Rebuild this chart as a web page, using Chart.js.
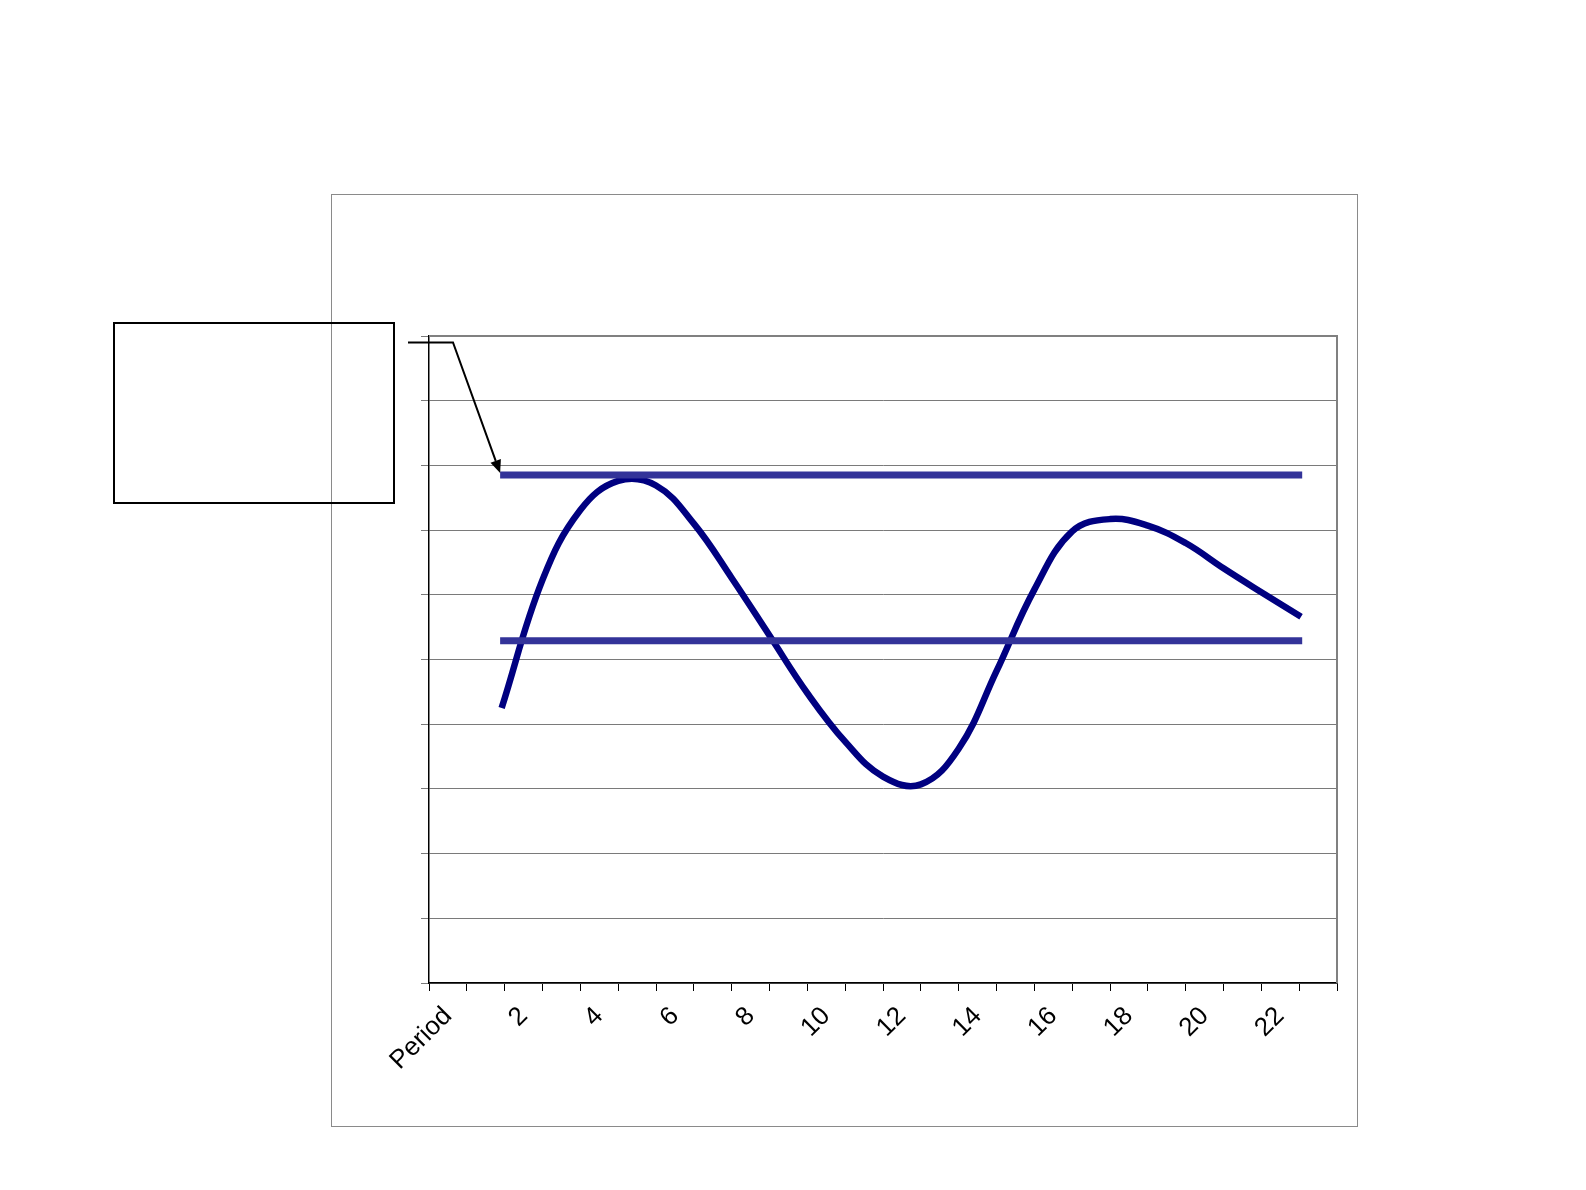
<!DOCTYPE html>
<html>
<head>
<meta charset="utf-8">
<script src="https://cdn.jsdelivr.net/npm/chart.js@4.4.1/dist/chart.umd.min.js"></script>
<style>
  html, body { margin: 0; padding: 0; background: #fff; }
  #wrap { position: relative; width: 1586px; height: 1190px; overflow: hidden; }
  #c { position: absolute; left: 0; top: 0; }
  #frame { position: absolute; left: 331px; top: 194px; width: 1025px; height: 931px; border: 1px solid #8a8a8a; box-sizing: content-box; }
  #textbox { position: absolute; left: 113px; top: 322px; width: 278px; height: 178px; border: 2px solid #000; background: transparent; }
</style>
</head>
<body>
<div id="wrap">
  <div id="frame"></div>
  <canvas id="c" width="1586" height="1190"></canvas>
  <div id="textbox"></div>
</div>
<script>
// ---- data ----
const categories = ['Period','1','2','3','4','5','6','7','8','9','10','11','12','13','14','15','16','17','18','19','20','21','22','23'];
const shownTickLabels = ['Period','2','4','6','8','10','12','14','16','18','20','22'];

const curveX = [1.92, 3, 4, 5, 6, 7, 8, 9, 10, 11, 12, 13, 14, 15, 16, 17, 18, 19, 20, 21, 22, 23.05];
const curveY = [4.25, 6.23, 7.31, 7.76, 7.69, 7.10, 6.26, 5.37, 4.48, 3.73, 3.19, 3.07, 3.62, 4.82, 6.08, 6.98, 7.17, 7.07, 6.80, 6.41, 6.04, 5.66];

const levelX = [1.88, 23.08];
const upperLevel = [7.85, 7.85];
const lowerLevel = [5.29, 5.29];

const yMin = 0, yMax = 10, yStep = 1;

function pts(xs, ys) { return xs.map((x, i) => ({ x: x, y: ys[i] })); }

const plotFrame = {
  id: 'plotFrame',
  beforeDatasetsDraw(chart) {
    const { ctx, chartArea: a } = chart;
    ctx.save();
    ctx.strokeStyle = '#808080';
    ctx.lineWidth = 2;
    ctx.beginPath();
    ctx.moveTo(a.left, a.top);
    ctx.lineTo(a.right, a.top);
    ctx.lineTo(a.right, a.bottom);
    ctx.stroke();
    ctx.restore();
  },
  afterDraw(chart) {
    // callout connector from the text box to the start of the upper level line
    const { ctx, chartArea: a } = chart;
    const xs = chart.scales.xl, ys = chart.scales.y;
    const tipX = xs.getPixelForValue(levelX[0]);
    const tipY = ys.getPixelForValue(upperLevel[0]) - 2;
    const elbowY = ys.getPixelForValue(9.9);
    const elbowX = a.left + 24;
    const startX = a.left - 21;
    ctx.save();
    ctx.strokeStyle = '#000';
    ctx.fillStyle = '#000';
    ctx.lineWidth = 2;
    ctx.beginPath();
    ctx.moveTo(startX, elbowY);
    ctx.lineTo(elbowX, elbowY);
    const ang = Math.atan2(tipY - elbowY, tipX - elbowX);
    const headLen = 13, headW = 5.5;
    const bx = tipX - headLen * Math.cos(ang), by = tipY - headLen * Math.sin(ang);
    ctx.lineTo(bx, by);
    ctx.stroke();
    ctx.beginPath();
    ctx.moveTo(tipX, tipY);
    ctx.lineTo(bx + headW * Math.sin(ang), by - headW * Math.cos(ang));
    ctx.lineTo(bx - headW * Math.sin(ang), by + headW * Math.cos(ang));
    ctx.closePath();
    ctx.fill();
    ctx.restore();
  }
};

new Chart(document.getElementById('c'), {
  type: 'line',
  data: {
    labels: categories,
    datasets: [
      {
        label: 'Upper',
        data: pts(levelX, upperLevel),
        xAxisID: 'xl',
        borderColor: '#333399',
        borderWidth: 7,
        borderCapStyle: 'butt',
        pointRadius: 0,
        tension: 0
      },
      {
        label: 'Lower',
        data: pts(levelX, lowerLevel),
        xAxisID: 'xl',
        borderColor: '#333399',
        borderWidth: 7,
        borderCapStyle: 'butt',
        pointRadius: 0,
        tension: 0
      },
      {
        label: 'Series',
        data: pts(curveX, curveY),
        xAxisID: 'xl',
        borderColor: '#000080',
        borderWidth: 6.5,
        borderCapStyle: 'butt',
        borderJoinStyle: 'round',
        pointRadius: 0,
        tension: 0.4
      }
    ]
  },
  options: {
    responsive: false,
    animation: false,
    devicePixelRatio: 1,
    layout: { padding: { left: 421, top: 336, right: 249, bottom: 87 } },
    plugins: { legend: { display: false }, tooltip: { enabled: false } },
    scales: {
      x: {
        type: 'category',
        offset: true,
        grid: { display: true, drawOnChartArea: false, drawTicks: true, tickLength: 8, color: '#000', offset: true, lineWidth: 1 },
        border: { display: true, color: '#000', width: 1.5 },
        ticks: {
          autoSkip: false,
          maxRotation: 45,
          minRotation: 45,
          padding: 10,
          color: '#000',
          font: { family: 'Liberation Sans, Arial, sans-serif', size: 26 },
          callback: function (val, idx) {
            const lab = categories[idx];
            return shownTickLabels.includes(lab) ? lab : '';
          }
        },
        afterFit(scale) { scale.height = 120; }
      },
      xl: {
        type: 'linear',
        display: false,
        min: 0,
        max: categories.length
      },
      y: {
        type: 'linear',
        min: yMin,
        max: yMax,
        ticks: { stepSize: yStep, display: false },
        grid: { color: '#7a7a7a', lineWidth: 1, tickLength: 8, drawTicks: true },
        border: { display: true, color: '#000', width: 1.5 },
        afterFit(scale) { scale.width = 8; }
      }
    }
  },
  plugins: [plotFrame]
});
</script>
</body>
</html>
